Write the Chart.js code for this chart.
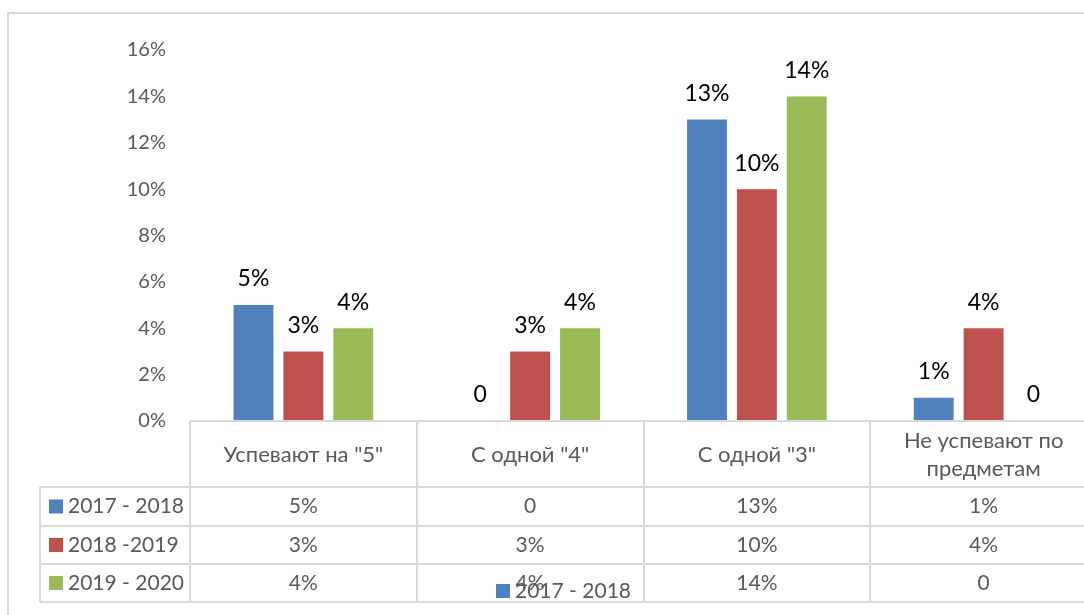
<!DOCTYPE html>
<html><head><meta charset="utf-8">
<script src="https://cdn.jsdelivr.net/npm/chart.js@4/dist/chart.umd.min.js"></script>
<style>
html,body{margin:0;padding:0;background:#fff;overflow:hidden;}
#wrap{width:1100px;height:615px;position:relative;}
</style></head>
<body><div id="wrap"><canvas id="c" width="1100" height="615"></canvas></div>
<script>
const categories = ['Успевают на "5"', 'С одной "4"', 'С одной "3"', ['Не успевают по', 'предметам']];
const seriesNames = ['2017 - 2018', '2018 -2019', '2019 - 2020'];
const values2017 = [5, 0, 13, 1];
const values2018 = [3, 3, 10, 4];
const values2019 = [4, 4, 14, 0];
const yTicks = [0, 2, 4, 6, 8, 10, 12, 14, 16];
const colors = ['#4F81BD', '#C0504D', '#9BBB59'];
const FONT = 'Lato, "Liberation Sans", sans-serif';
const GRID = '#d9d9d9';
const TXT = '#595959';
const fmt = v => v === 0 ? '0' : v + '%';

const seriesValues = [values2017, values2018, values2019];

const tablePlugin = {
  id: 'tablePlugin',
  beforeDraw(chart) {
    const ctx = chart.ctx;
    ctx.save();
    ctx.strokeStyle = GRID; ctx.lineWidth = 2;
    ctx.beginPath();
    ctx.moveTo(8, 615); ctx.lineTo(8, 13); ctx.lineTo(chart.width, 13);
    ctx.stroke();
    ctx.restore();
  },
  afterDraw(chart) {
    const ctx = chart.ctx;
    const x = chart.scales.x, ca = chart.chartArea;
    const n = categories.length;
    const step = (ca.right - ca.left) / n;
    const top = ca.bottom;
    const rows = [487, 526, 564, 602];
    const legLeft = 40;
    ctx.save();
    ctx.strokeStyle = GRID; ctx.lineWidth = 2;
    ctx.beginPath();
    ctx.moveTo(ca.left, top); ctx.lineTo(ca.right, top);
    rows.forEach(r => { ctx.moveTo(legLeft, r); ctx.lineTo(ca.right, r); });
    ctx.moveTo(legLeft, rows[0]); ctx.lineTo(legLeft, rows[3]);
    for (let i = 0; i <= n; i++) {
      const lx = Math.round(ca.left + i * step);
      ctx.moveTo(lx, top); ctx.lineTo(lx, rows[3]);
    }
    ctx.stroke();
    // header
    ctx.fillStyle = TXT;
    ctx.font = '22px ' + FONT;
    ctx.textAlign = 'center'; ctx.textBaseline = 'middle';
    categories.forEach((c, i) => {
      const cx = x.getPixelForValue(i);
      if (Array.isArray(c)) {
        ctx.fillText(c[0], cx, 441);
        ctx.fillText(c[1], cx, 469);
      } else {
        ctx.fillText(c, cx, 455);
      }
    });
    // rows
    ctx.font = '21px ' + FONT;
    seriesValues.forEach((vals, s) => {
      const cy = (rows[s] + rows[s + 1]) / 2;
      ctx.fillStyle = colors[s];
      ctx.fillRect(49, cy - 7, 14, 14);
      ctx.fillStyle = TXT;
      ctx.textAlign = 'left';
      ctx.fillText(seriesNames[s], 68, cy);
      ctx.textAlign = 'center';
      vals.forEach((v, i) => ctx.fillText(fmt(v), x.getPixelForValue(i), cy));
    });
    // stray legend
    ctx.fillStyle = colors[0];
    ctx.fillRect(496, 584, 14, 14);
    ctx.fillStyle = TXT; ctx.textAlign = 'left';
    ctx.fillText(seriesNames[0], 515, 591);
    // data labels
    ctx.fillStyle = '#000';
    ctx.font = '23px ' + FONT;
    ctx.textAlign = 'center';
    chart.data.datasets.forEach((ds, di) => {
      chart.getDatasetMeta(di).data.forEach((bar, i) => {
        ctx.fillText(fmt(ds.data[i]), bar.x, bar.y - 26);
      });
    });
    ctx.restore();
  }
};

new Chart(document.getElementById('c'), {
  type: 'bar',
  data: {
    labels: categories,
    datasets: seriesNames.map((name, s) => ({
      label: name,
      data: seriesValues[s],
      backgroundColor: colors[s],
      borderWidth: 0,
      categoryPercentage: 0.66,
      barPercentage: 0.8
    }))
  },
  options: {
    responsive: false,
    animation: false,
    events: [],
    layout: { padding: { left: 0, top: 50, right: 3, bottom: 194 } },
    plugins: { legend: { display: false }, tooltip: { enabled: false } },
    scales: {
      x: {
        grid: { display: false, drawTicks: false },
        border: { display: false },
        ticks: { display: false },
        afterFit: s => { s.height = 0; }
      },
      y: {
        min: 0, max: 16,
        afterBuildTicks: s => { s.ticks = yTicks.map(v => ({ value: v })); },
        grid: { display: false, drawTicks: false },
        border: { display: false },
        ticks: { color: TXT, font: { size: 20, family: FONT }, padding: 24, callback: v => v + '%' },
        afterFit: s => { s.width = 190; }
      }
    }
  },
  plugins: [tablePlugin]
});
</script>
</body></html>
